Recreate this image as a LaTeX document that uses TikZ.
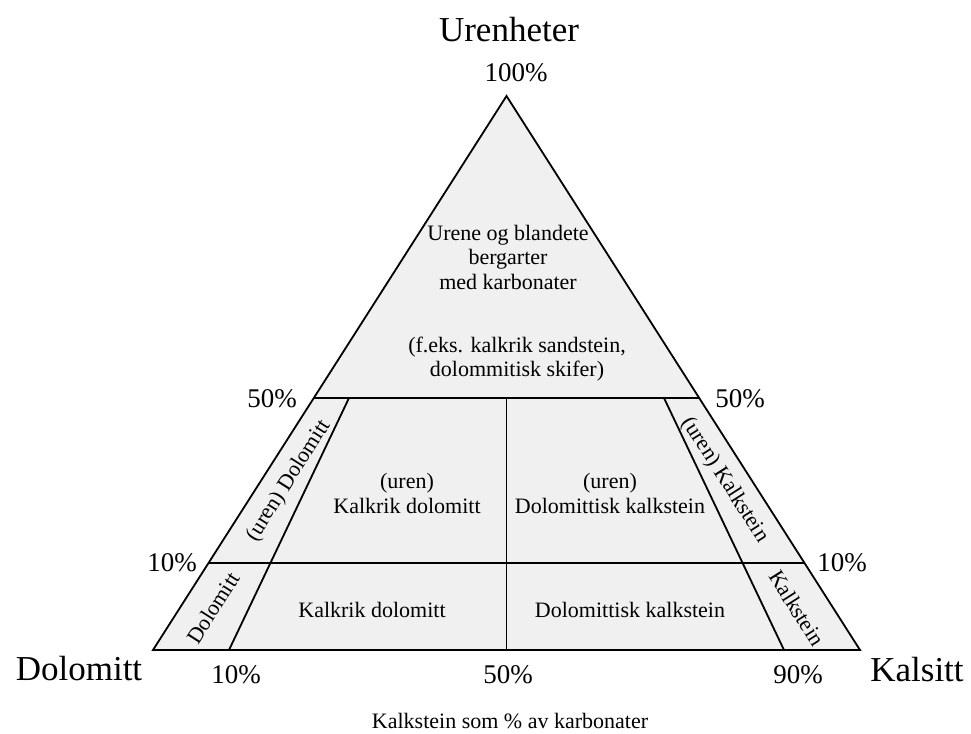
\documentclass[tikz,border=0pt]{standalone}
\usepackage{fontspec}
\setmainfont{Liberation Serif}
\begin{document}
\begin{tikzpicture}[x=1pt,y=-1pt,
  region/.style={fill=black!6, draw=none},
  edge/.style={draw=black, line width=1.8pt, line join=miter},
  txt/.style={font=\fontsize{22}{26}\selectfont, inner sep=0pt, anchor=base},
  rtxt/.style={font=\fontsize{22}{26}\selectfont, inner sep=0pt, anchor=center},
  pct/.style={font=\fontsize{27}{30}\selectfont, inner sep=0pt, anchor=base},
  big/.style={font=\fontsize{35}{40}\selectfont, inner sep=0pt, anchor=base}]
\useasboundingbox (0,0) rectangle (971,733);
% corner points
\coordinate (A) at (506.5,96);
\coordinate (L) at (153,650);
\coordinate (R) at (860,650);
\coordinate (L5) at (314,398);
\coordinate (R5) at (699,398);
\coordinate (L1) at (208.5,563);
\coordinate (R1) at (804.5,563);
\coordinate (a0) at (229,650);
\coordinate (a5) at (349,398);
\coordinate (b0) at (784,650);
\coordinate (b5) at (664,398);
\coordinate (m0) at (506.5,650);
\coordinate (m5) at (506.5,398);
% fill
\fill[region] (A) -- (L) -- (R) -- cycle;
% lines
\draw[edge] (A) -- (L) -- (R) -- cycle;
\draw[edge] (L5) -- (R5);
\draw[edge] (L1) -- (R1);
\draw[edge] (a0) -- (a5);
\draw[edge] (b0) -- (b5);
\draw[edge] (m0) -- (m5);
% top region text
\node[txt] (t1) at (508,240) {Urene og blandete};
\node[txt] (t2) at (508,264) {bergarter};
\node[txt] (t3) at (508,289) {med karbonater};
\node[txt] (t4) at (517,352) {(f.eks. kalkrik sandstein,};
\node[txt] (t5) at (517,376) {dolommitisk skifer)};
% middle regions
\node[txt] (u1) at (407,488) {(uren)};
\node[txt] (u2) at (407,513) {Kalkrik dolomitt};
\node[txt] (u3) at (610,488) {(uren)};
\node[txt] (u4) at (610,513) {Dolomittisk kalkstein};
% bottom regions
\node[txt] (p1) at (372,617) {Kalkrik dolomitt};
\node[txt] (p2) at (630,617) {Dolomittisk kalkstein};
% rotated strip labels
\node[rtxt, rotate=57.5] (s1) at (289,481) {(uren) Dolomitt};
\node[rtxt, rotate=57.5] (s2) at (213,608) {Dolomitt};
\node[rtxt, rotate=-57.5] (s3) at (725,480) {(uren) Kalkstein};
\node[rtxt, rotate=-57.5] (s4) at (797,608) {Kalkstein};
% percentage labels
\node[pct] (c100) at (516,82) {100\%};
\node[pct] (c50l) at (272,407) {50\%};
\node[pct] (c50r) at (740,407) {50\%};
\node[pct] (c10l) at (172,571) {10\%};
\node[pct] (c10r) at (842,571) {10\%};
\node[pct] (b10) at (236,683) {10\%};
\node[pct] (b50) at (508,683) {50\%};
\node[pct] (b90) at (798,683) {90\%};
% corner names
\node[big] (nU) at (509,42) {Urenheter};
\node[big] (nD) at (79,680) {Dolomitt};
\node[big] (nK) at (917,681) {Kalsitt};
% caption
\node[txt] (cap) at (510,728) {Kalkstein som \% av karbonater};
\end{tikzpicture}
\end{document}
